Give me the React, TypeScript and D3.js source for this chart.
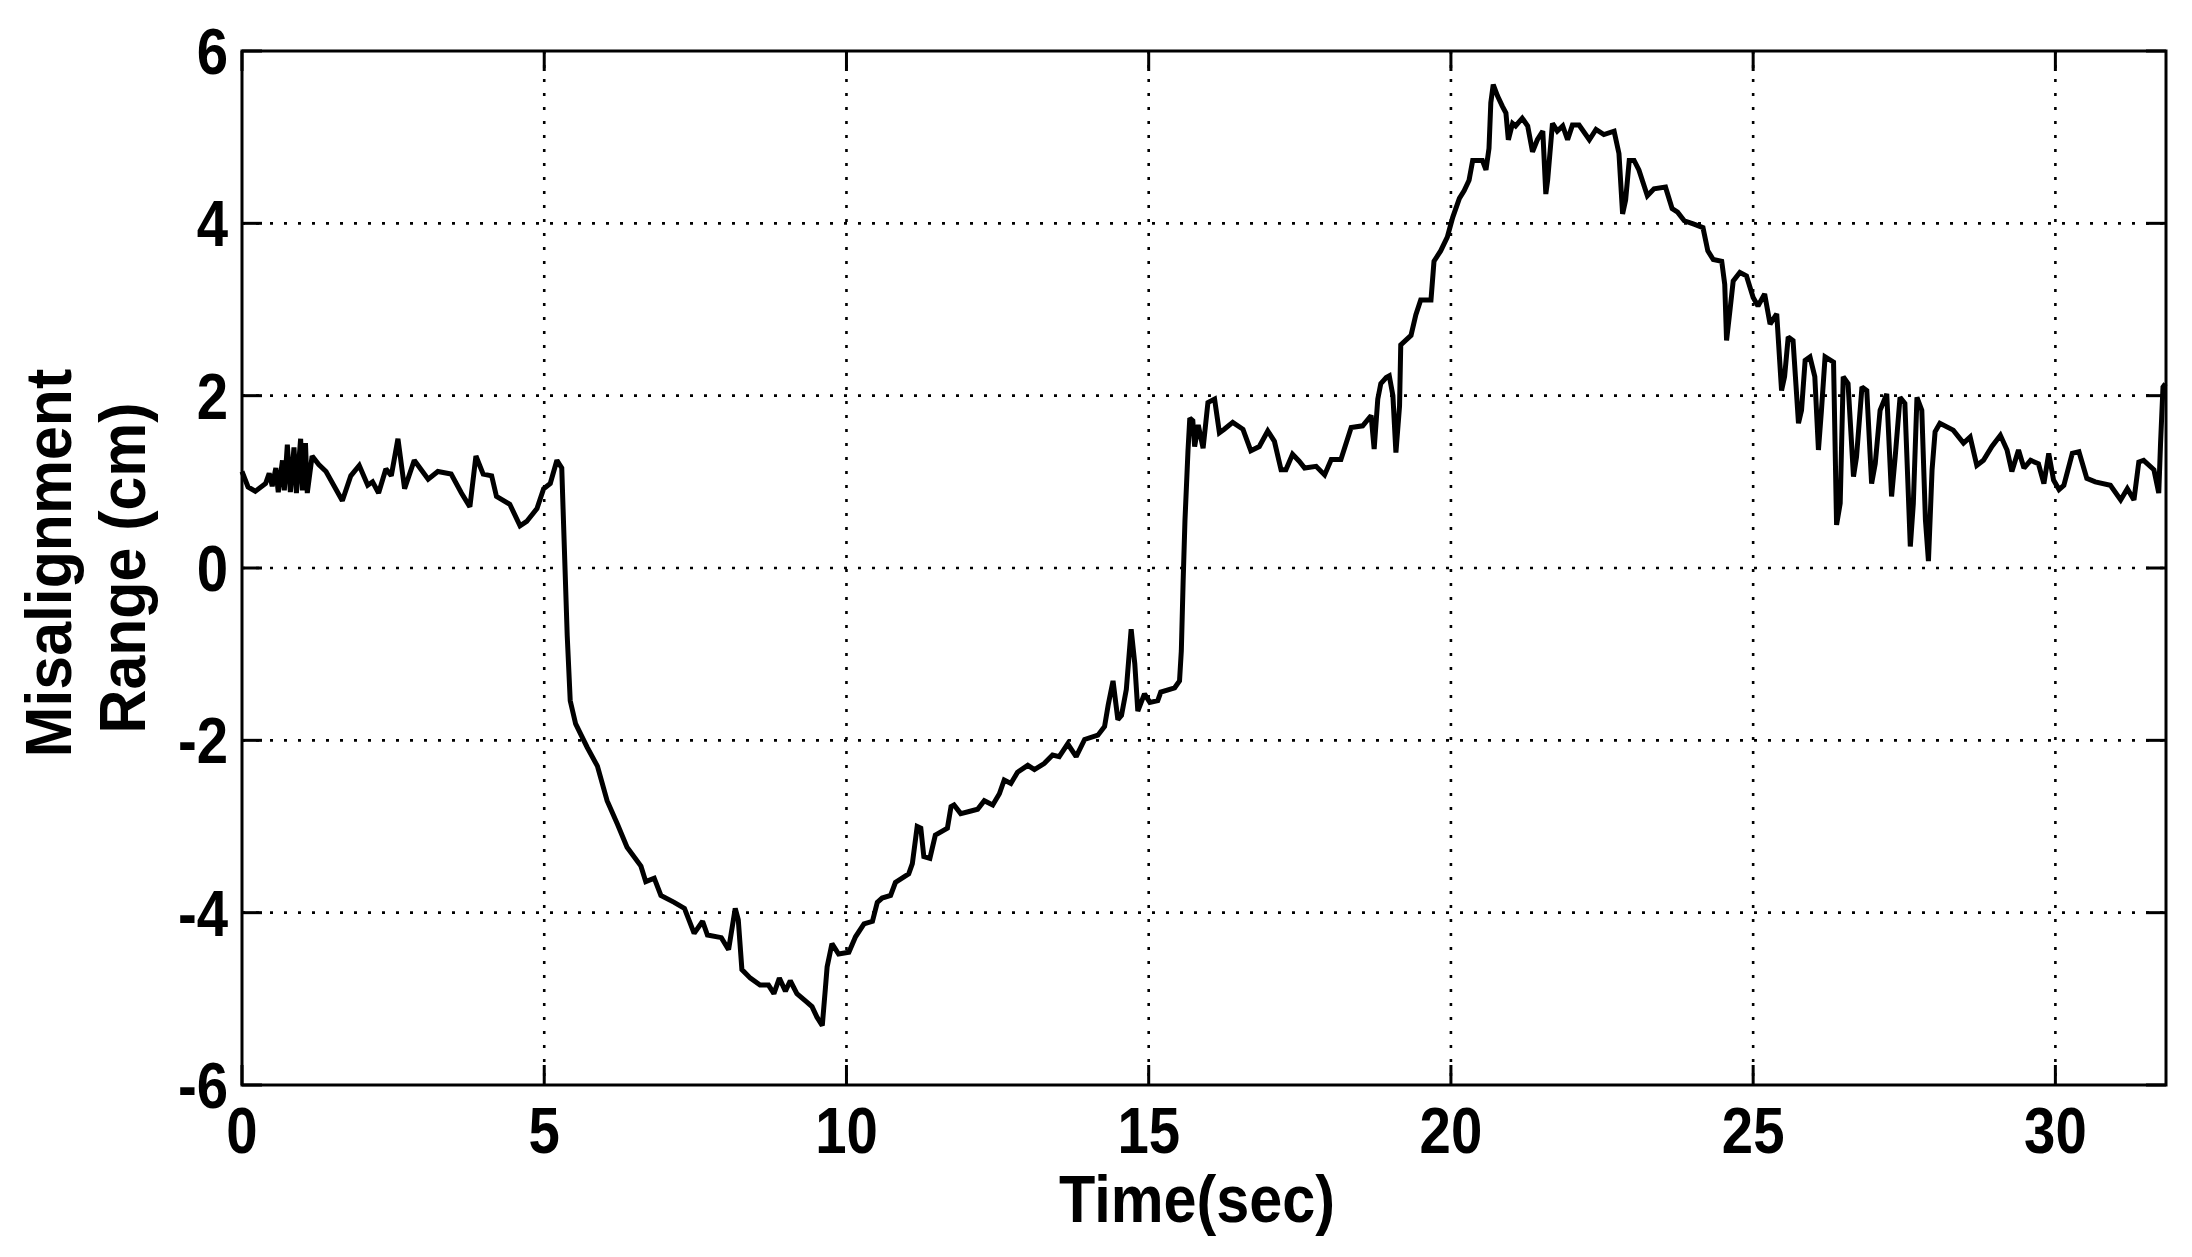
import { useEffect, useRef } from "react";
import * as d3 from "d3";

// time axis (sec) and misalignment range (cm)
const timeSec = [
  0, 0.1, 0.22, 0.39, 0.45, 0.5, 0.56, 0.6, 0.67, 0.7, 0.75, 0.8, 0.86, 0.9, 0.97, 1.0, 1.05, 1.08,
  1.16, 1.27, 1.39, 1.66, 1.8, 1.94, 2.08, 2.16, 2.26, 2.38, 2.47, 2.58, 2.69, 2.85, 3.08, 3.24,
  3.46, 3.63, 3.77, 3.87, 3.99, 4.13, 4.21, 4.43, 4.6, 4.71, 4.88, 4.99, 5.1, 5.21, 5.29, 5.32,
  5.38, 5.43, 5.52, 5.71, 5.88, 6.04, 6.21, 6.37, 6.6, 6.68, 6.82, 6.93, 7.15, 7.32, 7.48, 7.62,
  7.7, 7.93, 8.05, 8.16, 8.21, 8.27, 8.41, 8.57, 8.71, 8.8, 8.89, 8.99, 9.07, 9.18, 9.35, 9.43,
  9.51, 9.6, 9.65, 9.68, 9.76, 9.87, 10.04, 10.15, 10.29, 10.43, 10.51, 10.59, 10.73, 10.81,
  11.03, 11.09, 11.17, 11.23, 11.28, 11.38, 11.47, 11.67, 11.73, 11.78, 11.89, 12.06, 12.17,
  12.28, 12.42, 12.53, 12.61, 12.72, 12.83, 13.0, 13.11, 13.27, 13.41, 13.52, 13.66, 13.8, 13.94,
  14.16, 14.27, 14.33, 14.41, 14.49, 14.55, 14.63, 14.71, 14.77, 14.82, 14.93, 15.02, 15.15,
  15.2, 15.43, 15.51, 15.54, 15.57, 15.6, 15.65, 15.68, 15.73, 15.76, 15.82, 15.9, 15.98, 16.09,
  16.17, 16.25, 16.39, 16.56, 16.69, 16.83, 16.97, 17.08, 17.19, 17.27, 17.38, 17.49, 17.58,
  17.77, 17.91, 18.02, 18.18, 18.35, 18.54, 18.68, 18.73, 18.79, 18.84, 18.93, 18.98, 19.04,
  19.09, 19.15, 19.17, 19.34, 19.42, 19.5, 19.67, 19.72, 19.83, 19.94, 20.03, 20.14, 20.22,
  20.3, 20.36, 20.52, 20.58, 20.63, 20.66, 20.7, 20.77, 20.85, 20.91, 20.95, 21.02, 21.07,
  21.18, 21.27, 21.35, 21.43, 21.52, 21.57, 21.6, 21.68, 21.76, 21.85, 21.93, 22.01, 22.12,
  22.29, 22.4, 22.53, 22.7, 22.78, 22.84, 22.89, 22.95, 23.03, 23.11, 23.25, 23.36, 23.55,
  23.66, 23.75, 23.86, 24.02, 24.17, 24.25, 24.34, 24.48, 24.53, 24.56, 24.61, 24.67, 24.78,
  24.89, 25.0, 25.08, 25.19, 25.28, 25.39, 25.47, 25.52, 25.58, 25.66, 25.75, 25.8, 25.86,
  25.94, 26.02, 26.08, 26.13, 26.19, 26.33, 26.38, 26.44, 26.49, 26.57, 26.66, 26.71, 26.8,
  26.88, 26.96, 27.02, 27.1, 27.21, 27.29, 27.35, 27.43, 27.51, 27.6, 27.65, 27.71, 27.79,
  27.85, 27.9, 27.96, 28.01, 28.09, 28.31, 28.48, 28.59, 28.7, 28.81, 28.95, 29.09, 29.2,
  29.28, 29.39, 29.48, 29.59, 29.72, 29.81, 29.89, 29.97, 30.06, 30.14, 30.28, 30.39, 30.52,
  30.66, 30.91, 31.08, 31.19, 31.3, 31.38, 31.46, 31.63, 31.71, 31.74, 31.78, 31.82,
];

const rangeCm = [
  1.12, 0.94, 0.89, 0.98, 1.1, 0.95, 1.16, 0.88, 1.25, 0.9, 1.43, 0.88, 1.4, 0.87, 1.5, 0.9, 1.45, 0.87,
  1.3, 1.2, 1.12, 0.78, 1.07, 1.19, 0.96, 1.0, 0.87, 1.15, 1.07, 1.5, 0.92, 1.25, 1.03, 1.12,
  1.09, 0.87, 0.71, 1.3, 1.09, 1.07, 0.83, 0.74, 0.49, 0.54, 0.69, 0.92, 0.98, 1.25, 1.16, 0.51,
  -0.78, -1.54, -1.81, -2.08, -2.3, -2.7, -2.97, -3.24, -3.46, -3.64, -3.6, -3.8, -3.88, -3.95, -4.24, -4.1,
  -4.26, -4.29, -4.43, -3.95, -4.08, -4.66, -4.76, -4.84, -4.84, -4.94, -4.76, -4.91, -4.79, -4.94, -5.04, -5.09,
  -5.21, -5.31, -4.89, -4.63, -4.36, -4.48, -4.46, -4.28, -4.13, -4.1, -3.88, -3.83, -3.8, -3.65,
  -3.55, -3.43, -3.0, -3.02, -3.35, -3.37, -3.1, -3.02, -2.77, -2.75, -2.85, -2.82, -2.8,
  -2.7, -2.75, -2.62, -2.46, -2.5, -2.37, -2.29, -2.34, -2.27, -2.17, -2.19, -2.04, -2.19, -1.99,
  -1.94, -1.84, -1.59, -1.31, -1.76, -1.71, -1.41, -0.71, -1.11, -1.66, -1.46, -1.56, -1.54,
  -1.44, -1.39, -1.31, -0.96, -0.15, 0.55, 1.36, 1.74, 1.71, 1.41, 1.66, 1.39, 1.92, 1.96,
  1.57, 1.61, 1.69, 1.61, 1.36, 1.41, 1.59, 1.47, 1.14, 1.14, 1.32, 1.24, 1.16,
  1.18, 1.08, 1.26, 1.26, 1.63, 1.65, 1.77, 1.38, 1.96, 2.14, 2.21, 2.23, 2.0,
  1.34, 1.88, 2.59, 2.7, 2.94, 3.11, 3.11, 3.56, 3.68, 3.84, 4.07, 4.29, 4.38,
  4.5, 4.73, 4.73, 4.62, 4.87, 5.4, 5.61, 5.48, 5.36, 5.28, 4.97, 5.16, 5.13,
  5.22, 5.13, 4.83, 4.97, 5.07, 4.34, 4.5, 5.16, 5.07, 5.13, 4.97, 5.14, 5.14,
  4.97, 5.09, 5.03, 5.07, 4.81, 4.11, 4.27, 4.73, 4.73, 4.62, 4.32, 4.4, 4.42,
  4.17, 4.13, 4.03, 3.99, 3.95, 3.68, 3.58, 3.56, 3.29, 2.64, 2.95, 3.33, 3.43,
  3.39, 3.14, 3.04, 3.18, 2.83, 2.95, 2.06, 2.22, 2.68, 2.64, 1.68, 1.83, 2.41,
  2.45, 2.22, 1.37, 1.83, 2.45, 2.39, 0.5, 0.75, 2.22, 2.14, 1.06, 1.29, 2.1,
  2.06, 0.98, 1.21, 1.83, 2.02, 0.83, 1.29, 1.98, 1.91, 0.25, 0.75, 1.98, 1.83,
  0.56, 0.08, 1.14, 1.58, 1.68, 1.6, 1.45, 1.52, 1.19, 1.25, 1.41, 1.54, 1.37,
  1.12, 1.37, 1.16, 1.25, 1.21, 0.98, 1.33, 1.02, 0.91, 0.96, 1.33, 1.35, 1.04,
  1.0, 0.96, 0.79, 0.92, 0.79, 1.23, 1.25, 1.14, 0.87, 1.45, 2.1, 2.14,
];

const xTicks = [0, 5, 10, 15, 20, 25, 30];
const yTicks = [-6, -4, -2, 0, 2, 4, 6];
const xLabel = "Time(sec)";
const yLabelLines = ["Misalignment", "Range (cm)"];

export default function App() {
  const svgRef = useRef<SVGSVGElement>(null);

  useEffect(() => {
    const width = 2192;
    const height = 1257;
    const marginTop = 51;
    const marginRight = 26;
    const marginBottom = 172;
    const marginLeft = 242;
    const tickLen = 20;
    const font = "'Liberation Sans', Arial, Helvetica, sans-serif";

    const svg = d3.select(svgRef.current);
    svg.selectAll("*").remove();

    const x = d3.scaleLinear().domain([0, 31.83]).range([marginLeft, width - marginRight]);
    const y = d3.scaleLinear().domain([-6, 6]).range([height - marginBottom, marginTop]);

    svg.append("rect").attr("width", width).attr("height", height).attr("fill", "#fff");

    // dotted grid
    const grid = svg.append("g")
      .attr("stroke", "#000")
      .attr("stroke-width", 2.6)
      .attr("stroke-dasharray", "3 11");
    grid.selectAll("line.vx")
      .data(xTicks.filter((d) => d > 0))
      .join("line")
      .attr("x1", (d) => x(d))
      .attr("x2", (d) => x(d))
      .attr("y1", y(6))
      .attr("y2", y(-6));
    grid.selectAll("line.hy")
      .data(yTicks.filter((d) => d > -6 && d < 6))
      .join("line")
      .attr("class", "hy")
      .attr("x1", x(0))
      .attr("x2", x(31.83))
      .attr("y1", (d) => y(d))
      .attr("y2", (d) => y(d));

    // the series
    const points = timeSec.map((t, i) => [t, rangeCm[i]] as [number, number]);
    const line = d3.line<[number, number]>()
      .x((d) => x(d[0]))
      .y((d) => y(d[1]));
    svg.append("path")
      .datum(points)
      .attr("d", line)
      .attr("fill", "none")
      .attr("stroke", "#000")
      .attr("stroke-width", 5)
      .attr("stroke-linejoin", "miter")
      .attr("stroke-miterlimit", 2);

    // box and inward ticks on all four sides
    const axes = svg.append("g").attr("stroke", "#000").attr("stroke-width", 3);
    axes.append("rect")
      .attr("x", x(0))
      .attr("y", y(6))
      .attr("width", x(31.83) - x(0))
      .attr("height", y(-6) - y(6))
      .attr("fill", "none");
    xTicks.forEach((t) => {
      axes.append("line").attr("x1", x(t)).attr("x2", x(t)).attr("y1", y(-6)).attr("y2", y(-6) - tickLen);
      axes.append("line").attr("x1", x(t)).attr("x2", x(t)).attr("y1", y(6)).attr("y2", y(6) + tickLen);
    });
    yTicks.forEach((v) => {
      axes.append("line").attr("x1", x(0)).attr("x2", x(0) + tickLen).attr("y1", y(v)).attr("y2", y(v));
      axes.append("line").attr("x1", x(31.83)).attr("x2", x(31.83) - tickLen).attr("y1", y(v)).attr("y2", y(v));
    });

    // tick labels
    svg.append("g")
      .selectAll("g")
      .data(xTicks)
      .join("g")
      .attr("transform", (d) => `translate(${x(d)}, ${y(-6) + 68})`)
      .append("text")
      .attr("transform", "scale(0.88, 1)")
      .attr("text-anchor", "middle")
      .attr("font-family", font)
      .attr("font-weight", "bold")
      .attr("font-size", 64)
      .text((d) => String(d));

    svg.append("g")
      .selectAll("g")
      .data(yTicks)
      .join("g")
      .attr("transform", (d) => `translate(${x(0) - 14}, ${y(d) + 23})`)
      .append("text")
      .attr("transform", "scale(0.88, 1)")
      .attr("text-anchor", "end")
      .attr("font-family", font)
      .attr("font-weight", "bold")
      .attr("font-size", 64)
      .text((d) => String(d));

    // axis titles
    svg.append("g")
      .attr("transform", `translate(${(x(0) + x(31.83)) / 2 - 7}, ${y(-6) + 137})`)
      .append("text")
      .attr("transform", "scale(0.9, 1)")
      .attr("text-anchor", "middle")
      .attr("font-family", font)
      .attr("font-weight", "bold")
      .attr("font-size", 66)
      .text(xLabel);

    const yMid = (y(6) + y(-6)) / 2;
    [71, 145].forEach((bx, i) => {
      svg.append("g")
        .attr("transform", `translate(${bx}, ${yMid - (i === 0 ? 5 : 0)}) rotate(-90)`)
        .append("text")
        .attr("transform", "scale(0.95, 1)")
        .attr("text-anchor", "middle")
        .attr("font-family", font)
        .attr("font-weight", "bold")
        .attr("font-size", 64)
        .text(yLabelLines[i]);
    });
  }, []);

  return (
    <svg
      ref={svgRef}
      width={2192}
      height={1257}
      style={{ position: "absolute", left: 0, top: 0, display: "block" }}
    />
  );
}
